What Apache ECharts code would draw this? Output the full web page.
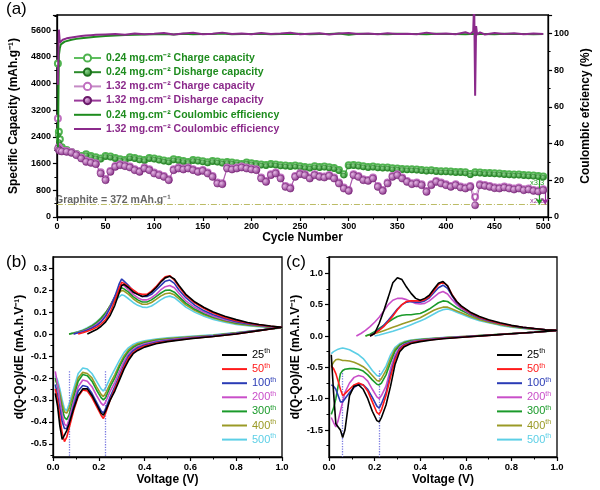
<!DOCTYPE html>
<html><head><meta charset="utf-8">
<script src="https://cdn.jsdelivr.net/npm/echarts@6/dist/echarts.min.js"></script>
<style>html,body{margin:0;padding:0;background:#fff}#c{width:600px;height:490px}</style>
</head><body><div id="c"></div>
<script>
// ---------- DATA (a) ----------
const capCycles = [1,2,3,5,10,15,20,25,30,35,40,45,50,55,60,65,70,75,80,85,90,95,100,105,110,115,120,125,130,135,140,145,150,155,160,165,170,175,180,185,190,195,200,205,210,215,220,225,230,235,240,245,250,255,260,265,270,275,280,285,290,295,300,305,310,315,320,325,330,335,340,345,350,355,360,365,370,375,380,385,390,395,400,405,410,415,420,425,430,435,440,445,450,455,460,465,470,475,480,485,490,495,500];
const chg024 = [4600,2550,2330,
2090,2010,1950,1890,1830,1880,1830,1790,1750,1830,
1810,1770,1730,1710,1790,1770,1730,1710,1770,1750,
1720,1690,1670,1730,1710,1680,1650,1710,1690,1670,
1640,1680,1660,1630,1650,1630,1610,1590,1630,1610,
1590,1570,1560,1590,1570,1550,1540,1530,1540,1520,
1500,1480,1520,1500,1510,1490,1470,1410,1280,1550,
1560,1540,1520,1500,1510,1490,1480,1480,1460,1450,
1440,1430,1430,1420,1410,1390,1400,1380,1370,1370,
1360,1350,1350,1340,1290,1340,1330,1320,1320,1310,
1300,1290,1280,1270,1270,1260,1250,1240,1230,1210];
const dis024 = [2450,2250,2150,
2050,1980,1920,1860,1800,1850,1800,1760,1720,1800,
1780,1740,1700,1680,1760,1740,1700,1680,1740,1720,
1690,1660,1640,1700,1680,1650,1620,1680,1660,1640,
1610,1650,1630,1600,1620,1600,1580,1560,1600,1580,
1560,1540,1530,1560,1540,1520,1510,1500,1510,1490,
1470,1450,1490,1470,1480,1460,1440,1380,1240,1520,
1530,1510,1490,1470,1480,1460,1450,1450,1430,1420,
1410,1400,1400,1390,1380,1360,1370,1350,1340,1340,
1330,1320,1320,1310,1250,1310,1300,1290,1290,1280,
1270,1260,1250,1240,1240,1230,1220,1210,1200,1180];
const chg132 = [2950,2100,2020,
1990,1980,1950,1880,1780,1690,1650,1610,1340,1140,
1380,1530,1580,1550,1510,1430,1380,1480,1430,1330,
1280,1230,1130,1430,1480,1450,1480,1430,1380,1410,
1330,1230,1030,1010,1480,1450,1480,1510,1480,1450,
1430,1180,1080,1280,1330,1180,930,880,1230,1310,
1280,1180,1280,1230,1210,1260,1180,1030,880,810,
1280,1230,1130,1110,1180,930,810,1030,1230,1280,
1180,1080,1010,1030,980,780,980,1080,1030,980,
930,980,910,880,930,600,980,960,930,890,
880,910,880,850,880,830,850,810,790,830];
const dis132 = [2050,2000,1980,
1960,1950,1920,1850,1750,1650,1620,1580,1300,1100,
1350,1500,1550,1520,1480,1400,1350,1450,1400,1300,
1250,1200,1100,1400,1450,1420,1450,1400,1350,1380,
1300,1200,1000,980,1450,1420,1450,1480,1450,1420,
1400,1150,1050,1250,1300,1150,900,850,1200,1280,
1250,1150,1250,1200,1180,1230,1150,1000,850,780,
1250,1200,1100,1080,1150,900,780,1000,1200,1250,
1150,1050,980,1000,950,750,950,1050,1000,950,
900,950,880,850,900,350,950,930,900,860,
850,880,850,820,850,800,820,780,760,800];
const ceCycles = [1,2,3,4,6,8,10,15,20,25,30,35,40,
50,60,70,80,90,100,110,120,130,140,
150,160,170,180,190,200,210,220,230,240,
250,260,270,280,290,300,310,320,330,340,
350,360,370,380,390,400,410,420,
425,428,429,430,431,432,435,
440,450,460,470,480,490,500];
const ce024 = [38,88,92,94,95,95.5,96,96.5,97,97.3,97.6,97.9,98.2,
98.6,98.9,99.1,99.3,99.4,99.5,99.7,99.4,99.8,99.5,
99.7,99.6,99.9,99.5,99.7,99.6,99.8,99.5,99.7,99.6,
99.8,99.5,99.7,99.6,99.9,99.3,99.8,99.6,99.7,99.5,
99.8,99.6,99.7,99.5,99.8,99.6,99.7,99.5,
99.6,99.8,99.6,99.7,99.5,99.8,99.6,
99.7,99.5,99.8,99.6,99.7,99.5,99.7];
const ce132 = [72,102,95,96,96.5,97,97.3,97.8,98.2,98.5,98.8,99,99.2,
99.4,99.6,99.3,99.9,99.5,99.8,100.2,99.4,99.9,100.3,
99.5,99.8,100.4,99.6,99.9,99.5,100.2,99.6,99.9,100.3,
99.5,99.8,100.1,99.4,99.9,100.2,99.6,99.9,99.5,100.1,
99.7,99.8,99.5,100.4,99.6,99.9,99.5,100.6,
99.7,101,118,66,104,99.5,100.5,
99.4,100.2,99.6,100.1,99.5,99.9,99.7];
const graphiteCap = 372;
const arrow024 = [496, 1180];
const arrow132 = [502, 800];
const capNames = ['0.24 mg.cm⁻² Charge capacity','0.24 mg.cm⁻² Disharge capacity','1.32 mg.cm⁻² Charge capacity','1.32 mg.cm⁻² Disharge capacity','0.24 mg.cm⁻² Coulombic efficiency','1.32 mg.cm⁻² Coulombic efficiency'];

// ---------- DATA (b) ----------
const cycleNames = ['25','50','100','200','300','400','500'];
const bUpV = [0.07,0.09,0.11,0.13,0.15,0.17,0.19,0.21,0.23,0.25,0.27,0.28,0.29,0.30,0.31,0.33,0.35,0.37,0.39,0.41,0.43,0.45,0.47,0.49,0.51,0.53,0.55,0.58,0.62,0.66,0.70,0.75,0.80,0.85,0.90,0.95,1.0];
const bUp = [
[null,null,null,null,0.0,0.01,0.02,0.035,0.055,0.085,0.13,0.16,0.19,0.22,0.225,0.21,0.19,0.18,0.17,0.175,0.19,0.21,0.235,0.255,0.262,0.25,0.22,0.18,0.145,0.12,0.1,0.08,0.065,0.052,0.043,0.036,0.03],
[null,null,0.0,0.005,0.012,0.02,0.03,0.045,0.065,0.1,0.15,0.18,0.21,0.235,0.23,0.215,0.2,0.185,0.18,0.18,0.195,0.215,0.24,0.26,0.265,0.245,0.215,0.175,0.14,0.115,0.095,0.075,0.06,0.05,0.041,0.035,0.03],
[null,0.0,0.005,0.01,0.018,0.027,0.038,0.055,0.08,0.12,0.17,0.2,0.23,0.25,0.24,0.22,0.195,0.18,0.17,0.17,0.18,0.2,0.22,0.24,0.245,0.23,0.2,0.165,0.13,0.105,0.087,0.07,0.056,0.047,0.04,0.034,0.03],
[null,0.0,0.006,0.012,0.02,0.03,0.043,0.06,0.085,0.125,0.17,0.19,0.21,0.225,0.22,0.2,0.18,0.165,0.155,0.155,0.165,0.18,0.2,0.215,0.22,0.21,0.185,0.15,0.12,0.098,0.08,0.065,0.053,0.045,0.038,0.033,0.03],
[0.0,0.003,0.008,0.015,0.024,0.035,0.05,0.07,0.095,0.13,0.17,0.185,0.2,0.21,0.205,0.19,0.17,0.155,0.145,0.145,0.155,0.17,0.185,0.198,0.2,0.19,0.17,0.14,0.112,0.092,0.076,0.062,0.05,0.043,0.037,0.032,0.029],
[0.0,0.004,0.009,0.016,0.025,0.037,0.052,0.072,0.097,0.128,0.16,0.175,0.188,0.198,0.195,0.18,0.16,0.145,0.135,0.135,0.143,0.157,0.172,0.183,0.186,0.178,0.16,0.132,0.106,0.087,0.072,0.058,0.047,0.04,0.035,0.031,0.028],
[0.0,0.005,0.011,0.018,0.028,0.04,0.055,0.074,0.097,0.123,0.148,0.16,0.17,0.178,0.175,0.16,0.143,0.13,0.122,0.12,0.127,0.14,0.155,0.167,0.172,0.165,0.148,0.122,0.098,0.08,0.066,0.053,0.043,0.037,0.033,0.03,0.027]];
const bLowV = [1.0,0.9,0.8,0.7,0.6,0.5,0.45,0.4,0.37,0.35,0.33,0.31,0.29,0.27,0.25,0.23,0.22,0.21,0.19,0.17,0.15,0.13,0.11,0.09,0.07,0.06,0.05,0.04,0.03,0.02,0.01];
const bLow = [
[0.03,0.015,0.0,-0.012,-0.022,-0.035,-0.045,-0.06,-0.075,-0.09,-0.12,-0.16,-0.21,-0.26,-0.3,-0.35,-0.37,-0.36,-0.32,-0.28,-0.25,-0.25,-0.28,-0.34,-0.41,-0.44,-0.46,-0.48,-0.42,-0.33,-0.27],
[0.03,0.015,0.0,-0.012,-0.021,-0.033,-0.042,-0.055,-0.07,-0.085,-0.11,-0.15,-0.2,-0.25,-0.3,-0.36,-0.385,-0.37,-0.33,-0.29,-0.26,-0.255,-0.285,-0.35,-0.43,-0.47,-0.49,-0.45,-0.38,-0.3,-0.25],
[0.03,0.016,0.002,-0.01,-0.019,-0.03,-0.038,-0.05,-0.063,-0.077,-0.1,-0.14,-0.19,-0.24,-0.285,-0.34,-0.36,-0.35,-0.31,-0.27,-0.24,-0.235,-0.26,-0.33,-0.41,-0.43,-0.43,-0.4,-0.34,-0.28,-0.23],
[0.03,0.017,0.003,-0.009,-0.017,-0.027,-0.034,-0.045,-0.057,-0.07,-0.09,-0.125,-0.17,-0.22,-0.26,-0.31,-0.325,-0.315,-0.28,-0.24,-0.215,-0.21,-0.24,-0.31,-0.39,-0.42,-0.41,-0.37,-0.3,-0.23,-0.17],
[0.029,0.017,0.004,-0.007,-0.015,-0.024,-0.03,-0.04,-0.05,-0.062,-0.08,-0.11,-0.15,-0.2,-0.24,-0.29,-0.3,-0.29,-0.255,-0.215,-0.19,-0.185,-0.215,-0.29,-0.37,-0.39,-0.38,-0.34,-0.29,-0.24,-0.2],
[0.028,0.017,0.005,-0.006,-0.013,-0.021,-0.027,-0.036,-0.045,-0.056,-0.072,-0.1,-0.14,-0.185,-0.225,-0.27,-0.285,-0.275,-0.24,-0.2,-0.18,-0.175,-0.2,-0.27,-0.34,-0.36,-0.355,-0.32,-0.27,-0.23,-0.21],
[0.027,0.018,0.006,-0.004,-0.011,-0.018,-0.023,-0.031,-0.039,-0.048,-0.062,-0.085,-0.12,-0.16,-0.2,-0.245,-0.26,-0.25,-0.215,-0.18,-0.16,-0.155,-0.18,-0.25,-0.32,-0.35,-0.34,-0.3,-0.25,-0.21,-0.19]];
const bPeakV = [0.07, 0.23];
const bPeakTop = -0.17;

// ---------- DATA (c) ----------
const cUpV = [0.12,0.14,0.16,0.18,0.20,0.22,0.24,0.26,0.28,0.30,0.32,0.34,0.36,0.38,0.40,0.42,0.44,0.46,0.48,0.50,0.52,0.54,0.56,0.58,0.62,0.66,0.70,0.75,0.80,0.85,0.90,0.95,1.0];
const cUp = [
[null,null,null,0.0,0.04,0.2,0.4,0.62,0.85,0.93,0.9,0.78,0.68,0.6,0.57,0.6,0.65,0.75,0.84,0.87,0.8,0.65,0.55,0.48,0.38,0.31,0.26,0.21,0.17,0.14,0.12,0.1,0.09],
[null,null,null,0.0,0.04,0.09,0.15,0.23,0.32,0.42,0.5,0.55,0.56,0.56,0.56,0.58,0.63,0.72,0.82,0.86,0.8,0.66,0.55,0.47,0.37,0.3,0.25,0.2,0.165,0.14,0.118,0.1,0.09],
[null,null,null,0.0,0.05,0.1,0.17,0.25,0.34,0.43,0.5,0.54,0.55,0.54,0.54,0.56,0.61,0.69,0.77,0.81,0.76,0.64,0.53,0.46,0.36,0.29,0.245,0.2,0.163,0.138,0.117,0.1,0.09],
[0.0,0.04,0.09,0.15,0.22,0.3,0.4,0.5,0.57,0.6,0.6,0.58,0.55,0.52,0.51,0.52,0.56,0.62,0.68,0.71,0.67,0.58,0.5,0.44,0.35,0.285,0.24,0.195,0.16,0.135,0.115,0.1,0.09],
[null,null,0.0,0.03,0.07,0.12,0.17,0.22,0.27,0.31,0.33,0.34,0.34,0.35,0.36,0.39,0.43,0.48,0.53,0.56,0.55,0.5,0.45,0.41,0.34,0.28,0.235,0.19,0.155,0.13,0.112,0.098,0.088],
[null,null,0.0,0.02,0.04,0.06,0.085,0.11,0.14,0.165,0.19,0.215,0.24,0.265,0.29,0.33,0.37,0.41,0.44,0.46,0.46,0.43,0.4,0.37,0.31,0.26,0.22,0.18,0.148,0.125,0.108,0.095,0.086],
[null,null,null,null,0.0,0.015,0.035,0.055,0.075,0.1,0.125,0.15,0.18,0.21,0.24,0.27,0.31,0.35,0.39,0.42,0.43,0.41,0.38,0.35,0.29,0.245,0.21,0.17,0.14,0.12,0.104,0.092,0.085]];
const cLowV = [1.0,0.9,0.8,0.7,0.6,0.5,0.45,0.4,0.36,0.33,0.31,0.29,0.27,0.25,0.23,0.22,0.21,0.19,0.17,0.15,0.13,0.11,0.09,0.07,0.06,0.05,0.04,0.03,0.02,0.01];
const cLow = [
[0.09,0.06,0.035,0.01,-0.015,-0.045,-0.065,-0.09,-0.12,-0.17,-0.25,-0.45,-0.8,-1.1,-1.3,-1.37,-1.35,-1.2,-1.0,-0.85,-0.78,-0.8,-0.95,-1.5,-1.62,-1.5,-1.45,-1.4,-0.9,-0.3],
[0.09,0.06,0.035,0.01,-0.015,-0.04,-0.06,-0.08,-0.11,-0.15,-0.22,-0.38,-0.65,-0.95,-1.18,-1.25,-1.22,-1.05,-0.88,-0.78,-0.75,-0.78,-0.85,-0.92,-0.95,-0.85,-0.72,-0.6,-0.52,-0.48],
[0.09,0.06,0.035,0.012,-0.012,-0.037,-0.055,-0.075,-0.1,-0.14,-0.2,-0.35,-0.6,-0.9,-1.08,-1.15,-1.12,-0.98,-0.85,-0.78,-0.77,-0.82,-0.9,-1.0,-1.05,-1.05,-0.95,-0.85,-0.8,-0.78],
[0.09,0.06,0.036,0.013,-0.01,-0.034,-0.05,-0.07,-0.09,-0.13,-0.18,-0.3,-0.52,-0.8,-0.95,-1.0,-0.97,-0.85,-0.72,-0.65,-0.63,-0.66,-0.75,-0.9,-1.05,-1.2,-1.35,-1.45,-1.38,-1.3],
[0.088,0.06,0.037,0.015,-0.008,-0.03,-0.045,-0.062,-0.08,-0.11,-0.15,-0.24,-0.42,-0.62,-0.75,-0.78,-0.77,-0.7,-0.62,-0.56,-0.53,-0.52,-0.52,-0.53,-0.55,-0.6,-0.8,-1.0,-1.15,-1.25],
[0.086,0.06,0.038,0.016,-0.006,-0.027,-0.04,-0.055,-0.072,-0.1,-0.14,-0.21,-0.36,-0.55,-0.68,-0.72,-0.71,-0.63,-0.55,-0.49,-0.45,-0.42,-0.4,-0.39,-0.39,-0.38,-0.37,-0.38,-0.42,-0.48],
[0.085,0.06,0.038,0.017,-0.004,-0.024,-0.036,-0.05,-0.065,-0.09,-0.12,-0.18,-0.3,-0.48,-0.6,-0.64,-0.63,-0.55,-0.45,-0.36,-0.3,-0.26,-0.22,-0.2,-0.19,-0.2,-0.21,-0.23,-0.25,-0.28]];
const cPeakV = [0.06, 0.22];
const cPeakTop = -0.55;

// ---------- STYLE ----------
const FONT = '"Liberation Sans", Arial, Helvetica, sans-serif';
const cycleColors = ['#000000','#ff1a1a','#2a3bb5','#c94fc9','#1a9a2a','#9a9a26','#5ccfe6'];
const GREEN = '#1e8c1e', PURPLE = '#8b2a8b';

function pairs(xs, ys){ const out=[]; for(let i=0;i<xs.length;i++){ if(ys[i]!==null && ys[i]!==undefined) out.push([xs[i], ys[i]]); } return out; }
function isObj(o){ return o && typeof o==='object' && !Array.isArray(o); }
function merge(a,b){ const r=Object.assign({},a); for(const k in b){ r[k] = (isObj(a[k])&&isObj(b[k])) ? merge(a[k],b[k]) : b[k]; } return r; }

const baseAxis = {
  nameLocation:'middle',
  axisLine:{show:true,onZero:false,lineStyle:{color:'#000',width:1.3}},
  axisTick:{show:true,inside:false,length:4,lineStyle:{color:'#000',width:1.2}},
  minorTick:{show:true,splitNumber:2,length:2.5,lineStyle:{color:'#000',width:1}},
  splitLine:{show:false}, minorSplitLine:{show:false},
  axisLabel:{color:'#000',fontWeight:'bold',fontSize:9,fontFamily:FONT,margin:6,formatter:v=>String(v)},
  nameTextStyle:{color:'#000',fontWeight:'bold',fontSize:12,fontFamily:FONT}
};
const ax = o => merge(baseAxis, o);
const f1 = v => v.toFixed(1);
const gridBox = {show:true,borderColor:'#000',borderWidth:1.3,backgroundColor:'transparent'};

function radial(c0,c1){ return {type:'radial',x:0.35,y:0.35,r:0.75,colorStops:[{offset:0,color:c0},{offset:1,color:c1}]}; }

const series = [];
series.push({name:capNames[0],type:'line',xAxisIndex:0,yAxisIndex:0,data:pairs(capCycles,chg024),
  symbol:'emptyCircle',symbolSize:6,lineStyle:{width:0.8,color:'#5fbf5f'},itemStyle:{color:'#4fb34f',borderWidth:1},z:2});
series.push({name:capNames[1],type:'line',xAxisIndex:0,yAxisIndex:0,data:pairs(capCycles,dis024),
  symbol:'circle',symbolSize:5,lineStyle:{width:0.8,color:'#2a8a2a'},itemStyle:{color:radial('#8fd88f','#1d7a1d'),borderColor:'#1d701d',borderWidth:0.5},z:3,
  markLine:{silent:true,animation:false,symbol:['none','none'],label:{show:false},
    data:[{yAxis:graphiteCap,lineStyle:{color:'#bcbc66',type:[6,2,1,2],width:1}},
          [{coord:arrow024,lineStyle:{color:'#1e9a1e',type:'solid',width:1.2}},{coord:[arrow024[0],graphiteCap],symbol:'arrow',symbolSize:6}]]}});
series.push({name:capNames[2],type:'line',xAxisIndex:0,yAxisIndex:0,data:pairs(capCycles,chg132),
  symbol:'emptyCircle',symbolSize:6,lineStyle:{width:0.8,color:'#c58ac5'},itemStyle:{color:'#c070c0',borderWidth:1},z:4});
series.push({name:capNames[3],type:'line',xAxisIndex:0,yAxisIndex:0,data:pairs(capCycles,dis132),
  symbol:'circle',symbolSize:7,lineStyle:{width:0.8,color:'#9a3a9a'},itemStyle:{color:radial('#e6b8e6','#7a1f7a'),borderColor:'#6a1a6a',borderWidth:0.5},z:5,
  markLine:{silent:true,animation:false,symbol:['none','none'],label:{show:false},
    data:[[{coord:arrow132,lineStyle:{color:'#9a2a9a',type:'solid',width:1.2}},{coord:[arrow132[0],graphiteCap],symbol:'arrow',symbolSize:6}]]}});
series.push({name:capNames[4],type:'line',xAxisIndex:0,yAxisIndex:1,data:pairs(ceCycles,ce024),symbol:'none',lineStyle:{width:2,color:GREEN},itemStyle:{color:GREEN},z:6});
series.push({name:capNames[5],type:'line',xAxisIndex:0,yAxisIndex:1,data:pairs(ceCycles,ce132),symbol:'none',lineStyle:{width:2,color:PURPLE},itemStyle:{color:PURPLE},z:7});

for(let i=0;i<7;i++){
  const s = {name:cycleNames[i],type:'line',xAxisIndex:1,yAxisIndex:2,symbol:'none',
    data:pairs(bUpV,bUp[i]).concat(pairs(bLowV,bLow[i])),lineStyle:{width:1.6,color:cycleColors[i]},itemStyle:{color:cycleColors[i]},z:10-i};
  if(i===0){ s.markLine={silent:true,animation:false,symbol:['none','none'],label:{show:false},lineStyle:{color:'#7a7ae0',type:'dotted',width:1.3},
    data:bPeakV.map(v=>[{coord:[v,bPeakTop]},{coord:[v,-0.56]}])}; }
  series.push(s);
}
for(let i=0;i<7;i++){
  const s = {name:cycleNames[i],type:'line',xAxisIndex:2,yAxisIndex:3,symbol:'none',
    data:pairs(cUpV,cUp[i]).concat(pairs(cLowV,cLow[i])),lineStyle:{width:1.6,color:cycleColors[i]},itemStyle:{color:cycleColors[i]},z:10-i};
  if(i===0){ s.markLine={silent:true,animation:false,symbol:['none','none'],label:{show:false},lineStyle:{color:'#7a7ae0',type:'dotted',width:1.3},
    data:cPeakV.map(v=>[{coord:[v,cPeakTop]},{coord:[v,-1.93]}])}; }
  series.push(s);
}

const cycLegend = (left) => ({
  left:left, top:343, orient:'vertical', itemWidth:25, itemHeight:8, itemGap:1.6,
  formatter: n => '{n|'+n+'}{s|th}',
  textStyle:{fontFamily:FONT,fontSize:11,rich:{n:{fontSize:11,lineHeight:14,fontFamily:FONT},s:{fontSize:7,verticalAlign:'top',lineHeight:14,fontFamily:FONT}}},
  data: cycleNames.map((n,i)=>({name:n,itemStyle:{opacity:0},textStyle:{color:cycleColors[i]}}))
});

const option = {
  animation:false,
  backgroundColor:'#fff',
  grid:[
    Object.assign({left:53,top:15,width:504,height:202},gridBox),
    Object.assign({left:53,top:257,width:229,height:200},gridBox),
    Object.assign({left:329,top:257,width:228,height:200},gridBox)
  ],
  xAxis:[
    ax({gridIndex:0,type:'value',min:0,max:505,interval:50,name:'Cycle Number',nameGap:14,axisLabel:{showMaxLabel:false,margin:5}}),
    ax({gridIndex:1,type:'value',min:0,max:1,interval:0.2,name:'Voltage (V)',nameGap:17,axisLabel:{formatter:f1,fontSize:9.5,margin:5}}),
    ax({gridIndex:2,type:'value',min:0,max:1,interval:0.2,name:'Voltage (V)',nameGap:17,axisLabel:{formatter:f1,fontSize:9.5,margin:5}})
  ],
  yAxis:[
    ax({gridIndex:0,type:'value',position:'left',min:0,max:6050,interval:800,name:'Specific Capacity (mAh.g⁻¹)',nameGap:33,nameRotate:90,axisLabel:{showMaxLabel:false}}),
    ax({gridIndex:0,type:'value',position:'right',min:0,max:110,interval:20,name:'Coulombic efciency (%)',nameGap:24,nameRotate:90,axisLabel:{showMaxLabel:false}}),
    ax({gridIndex:1,type:'value',position:'left',min:-0.56,max:0.35,name:'d(Q-Qo)/dE (mA.h.V⁻¹)',nameGap:27,nameRotate:90,
        minorTick:{show:false},axisTick:{customValues:[-0.5,-0.4,-0.3,-0.2,-0.1,0,0.1,0.2,0.3]},
        axisLabel:{customValues:[-0.5,-0.4,-0.3,-0.2,-0.1,0,0.1,0.2,0.3],formatter:f1,fontSize:9.5}}),
    ax({gridIndex:2,type:'value',position:'left',min:-1.93,max:1.26,name:'d(Q-Qo)/dE (mA.h.V⁻¹)',nameGap:27,nameRotate:90,
        minorTick:{show:false},axisTick:{customValues:[-1.5,-1,-0.5,0,0.5,1]},
        axisLabel:{customValues:[-1.5,-1,-0.5,0,0.5,1],formatter:f1,fontSize:9.5}}),
    {gridIndex:1,type:'value',position:'left',min:-0.56,max:0.35,axisLine:{show:false},splitLine:{show:false},axisLabel:{show:false},
        axisTick:{show:true,length:2.5,customValues:[-0.55,-0.45,-0.35,-0.25,-0.15,-0.05,0.05,0.15,0.25],lineStyle:{color:'#000',width:1}}},
    {gridIndex:2,type:'value',position:'left',min:-1.93,max:1.26,axisLine:{show:false},splitLine:{show:false},axisLabel:{show:false},
        axisTick:{show:true,length:2.5,customValues:[-1.75,-1.25,-0.75,-0.25,0.25,0.75,1.25],lineStyle:{color:'#000',width:1}}}
  ],
  legend:[
    {left:68,top:47,orient:'vertical',itemWidth:27,itemHeight:9,itemGap:2.2,
     textStyle:{fontFamily:FONT,fontSize:10.5,fontWeight:'bold',lineHeight:12},
     data:capNames.map((n,i)=>{
       const it = {name:n,textStyle:{color:(i===0||i===1||i===4)?'#1e8c1e':PURPLE}};
       if(i>=4) it.itemStyle = {opacity:0};
       return it;
     })},
    cycLegend(216),
    cycLegend(491)
  ],
  graphic:[
    {type:'text',left:6,top:1,style:{text:'(a)',fontSize:17,fontFamily:FONT,fill:'#000'}},
    {type:'text',left:6,top:254,style:{text:'(b)',fontSize:17,fontFamily:FONT,fill:'#000'}},
    {type:'text',left:286,top:254,style:{text:'(c)',fontSize:17,fontFamily:FONT,fill:'#000'}},
    {type:'text',left:55,top:195,style:{text:'Graphite = 372 mAh.g⁻¹',fontSize:10.5,fontWeight:'bold',fontFamily:FONT,fill:'#666'}},
    {type:'text',left:530,top:179,style:{text:'x3.3',fontSize:7.5,fontFamily:FONT,fill:'#2aa02a'}},
    {type:'text',left:530,top:197,style:{text:'x2.2',fontSize:7.5,fontFamily:FONT,fill:'#a040a0'}}
  ],
  series:series
};

const chart = echarts.init(document.getElementById('c'),null,{renderer:'canvas'});
chart.setOption(option);
</script></body></html>
